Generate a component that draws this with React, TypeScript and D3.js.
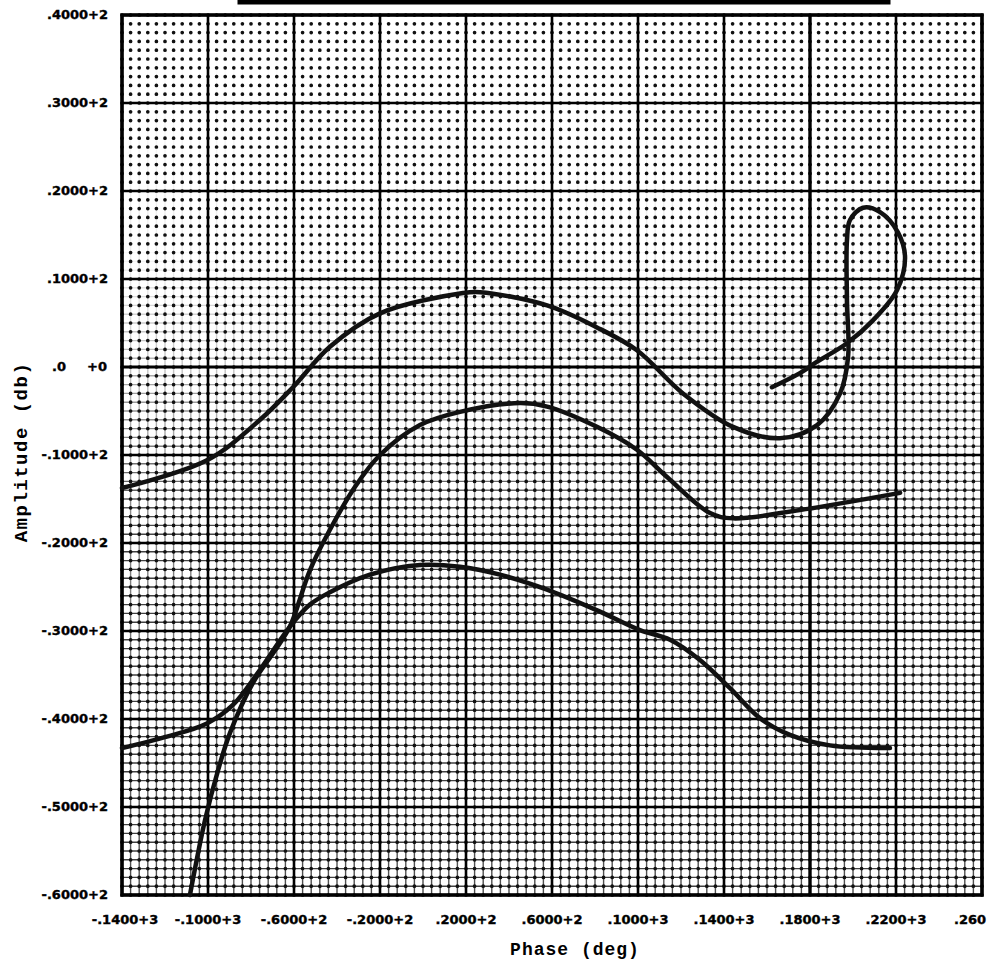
import React from "react";
import * as d3 from "d3";

// Phase (deg) / Amplitude (db) samples
const upperPhase = [-140, -100.5, -75.8, -60.5, -43.3, -20.0, 18.6, 26.5, 57.7, 80.9, 99.5, 120.9, 144.2, 166.0, 183.3, 194.0, 197.7, 197.2, 197.2, 198.6, 204.7, 212.6, 220.9, 224.2, 220.5, 209.3, 197.2, 183.3, 175.3, 162.3];
const upperDb = [-13.75, -10.6, -6.0, -2.3, 2.3, 6.1, 8.4, 8.5, 7.0, 4.5, 1.9, -3.0, -6.8, -8.1, -6.6, -3.0, 1.1, 7.6, 14.4, 16.7, 18.1, 17.6, 15.3, 12.5, 8.75, 5.3, 2.7, 0.6, -0.7, -2.3];

const middlePhase = [-108.4, -101.4, -95.3, -89.8, -79.1, -68.8, -61.9, -52.6, -43.3, -31.6, -20.0, -1.4, 17.2, 45.1, 57.7, 80.9, 99.5, 113.5, 133.5, 144.2, 175.3, 221.9];
const middleDb = [-60, -51.5, -45.8, -41.6, -35.9, -32.2, -29.5, -23.1, -18.5, -13.6, -10.0, -6.6, -5.1, -4.1, -4.5, -6.8, -9.4, -12.5, -16.6, -17.2, -16.25, -14.3];

const lowerPhase = [-140, -119.1, -100.5, -88.4, -75.8, -61.9, -52.6, -43.3, -24.7, -1.4, 17.2, 35.8, 57.7, 82.3, 100.9, 114.9, 128.8, 142.8, 156.7, 170.7, 189.3, 217.2];
const lowerDb = [-43.3, -42.0, -40.5, -38.4, -34.4, -29.5, -27.0, -25.6, -23.6, -22.5, -22.7, -23.6, -25.3, -27.8, -29.9, -31.0, -33.3, -36.5, -39.9, -41.8, -43.0, -43.3];

const xTickValues = [-140, -100, -60, -20, 20, 60, 100, 140, 180, 220, 260];
const xTickLabels = ["-.1400+3", "-.1000+3", "-.6000+2", "-.2000+2", ".2000+2", ".6000+2", ".1000+3", ".1400+3", ".1800+3", ".2200+3", ".260"];
const yTickValues = [40, 30, 20, 10, 0, -10, -20, -30, -40, -50, -60];
const yTickLabels = [".4000+2", ".3000+2", ".2000+2", ".1000+2", ".0", "-.1000+2", "-.2000+2", "-.3000+2", "-.4000+2", "-.5000+2", "-.6000+2"];

const W = 995;
const H = 964;
const L = 122, R = 982, T = 15, B = 895;

export default function App() {
  const x = d3.scaleLinear().domain([-140, 260]).range([L, R]);
  const y = d3.scaleLinear().domain([-60, 40]).range([B, T]);
  const line = d3
    .line<[number, number]>()
    .x((d) => x(d[0]))
    .y((d) => y(d[1]))
    .curve(d3.curveCatmullRom.alpha(0.5));

  const series = [
    upperPhase.map((p, i) => [p, upperDb[i]] as [number, number]),
    middlePhase.map((p, i) => [p, middleDb[i]] as [number, number]),
    lowerPhase.map((p, i) => [p, lowerDb[i]] as [number, number]),
  ];

  const minorX = d3.range(-140, 260.01, 4);
  const minorY = d3.range(-60, 40.01, 1);
  const stepY = y(0) - y(1);
  const dot = 3.7;

  return (
    <svg width={W} height={H} style={{ position: "absolute", left: 0, top: 0, background: "#fff" }}>
      <defs>
        <linearGradient id="vfade" gradientUnits="userSpaceOnUse" x1={0} y1={T} x2={0} y2={B}>
          <stop offset="0" stopColor="#000" stopOpacity={0} />
          <stop offset="0.3" stopColor="#000" stopOpacity={0.08} />
          <stop offset="0.55" stopColor="#000" stopOpacity={0.45} />
          <stop offset="1" stopColor="#000" stopOpacity={0.7} />
        </linearGradient>
      </defs>
      {/* title box remnant */}
      <rect x={240} y={-20} width={648} height={22} fill="none" stroke="#000" strokeWidth={5} />

      {/* faint minor lines, darker toward the bottom */}
      <g>
        {minorY.map((v) => {
          const op = Math.max(0, Math.min(0.75, (14 - v) / 45));
          return (
            <line key={"hy" + v} x1={L} x2={R} y1={y(v)} y2={y(v)} stroke="#000" strokeOpacity={op} strokeWidth={1.4} />
          );
        })}
        {minorX.map((v) => (
          <line key={"vx" + v} x1={x(v)} x2={x(v)} y1={T} y2={B} stroke="url(#vfade)" strokeWidth={1.4} />
        ))}
      </g>
      {/* dots at minor intersections */}
      <g>
        {minorX.map((v) => (
          <line
            key={"dx" + v}
            x1={x(v)}
            x2={x(v)}
            y1={T}
            y2={B + 1}
            stroke="#111"
            strokeWidth={dot}
            strokeLinecap="round"
            strokeDasharray={`0 ${stepY}`}
          />
        ))}
      </g>
      {/* major grid */}
      <g>
        {d3.range(-140, 260.01, 40).map((v) => (
          <line key={"MX" + v} x1={x(v)} x2={x(v)} y1={T} y2={B} stroke="#000" strokeWidth={v === 180 ? 3.4 : 2.6} />
        ))}
        {d3.range(-60, 40.01, 10).map((v) => (
          <line key={"MY" + v} x1={L} x2={R} y1={y(v)} y2={y(v)} stroke="#000" strokeWidth={v === 0 ? 3.2 : 2.6} />
        ))}
        <rect x={L} y={T} width={R - L} height={B - T} fill="none" stroke="#000" strokeWidth={3.5} />
      </g>

      {/* curves */}
      <g fill="none" stroke="#111" strokeWidth={4.5} strokeLinecap="round" strokeLinejoin="round">
        {series.map((s, i) => (
          <path key={i} d={line(s) || ""} />
        ))}
      </g>

      {/* tick labels */}
      <g fontFamily="DejaVu Sans" fontWeight="bold" fontSize={13} fill="#000" stroke="#000" strokeWidth={0.4}>
        {yTickValues.map((v, i) =>
          v === 0 ? (
            <g key={"yl" + v}>
              <text x={52} y={y(v)} dominantBaseline="middle">.0</text>
              <text x={107} y={y(v)} dominantBaseline="middle" textAnchor="end">+0</text>
            </g>
          ) : (
            <text key={"yl" + v} x={108} y={y(v)} dominantBaseline="middle" textAnchor="end">
              {yTickLabels[i]}
            </text>
          )
        )}
        {xTickValues.map((v, i) => (
          <text
            key={"xl" + v}
            x={x(v) + (i === 0 ? 3 : i === xTickValues.length - 1 ? -12 : 0)}
            y={920}
            dominantBaseline="middle"
            textAnchor="middle"
          >
            {xTickLabels[i]}
          </text>
        ))}
      </g>

      {/* axis titles */}
      <text
        x={575}
        y={950}
        textAnchor="middle"
        dominantBaseline="middle"
        fontFamily="Liberation Mono"
        fontWeight="bold"
        fontSize={18}
        letterSpacing={1}
      >
        Phase (deg)
      </text>
      <text
        transform={`translate(22,452) rotate(-90)`}
        textAnchor="middle"
        dominantBaseline="middle"
        fontFamily="Liberation Mono"
        fontWeight="bold"
        fontSize={19}
        letterSpacing={1.5}
      >
        Amplitude (db)
      </text>
    </svg>
  );
}
